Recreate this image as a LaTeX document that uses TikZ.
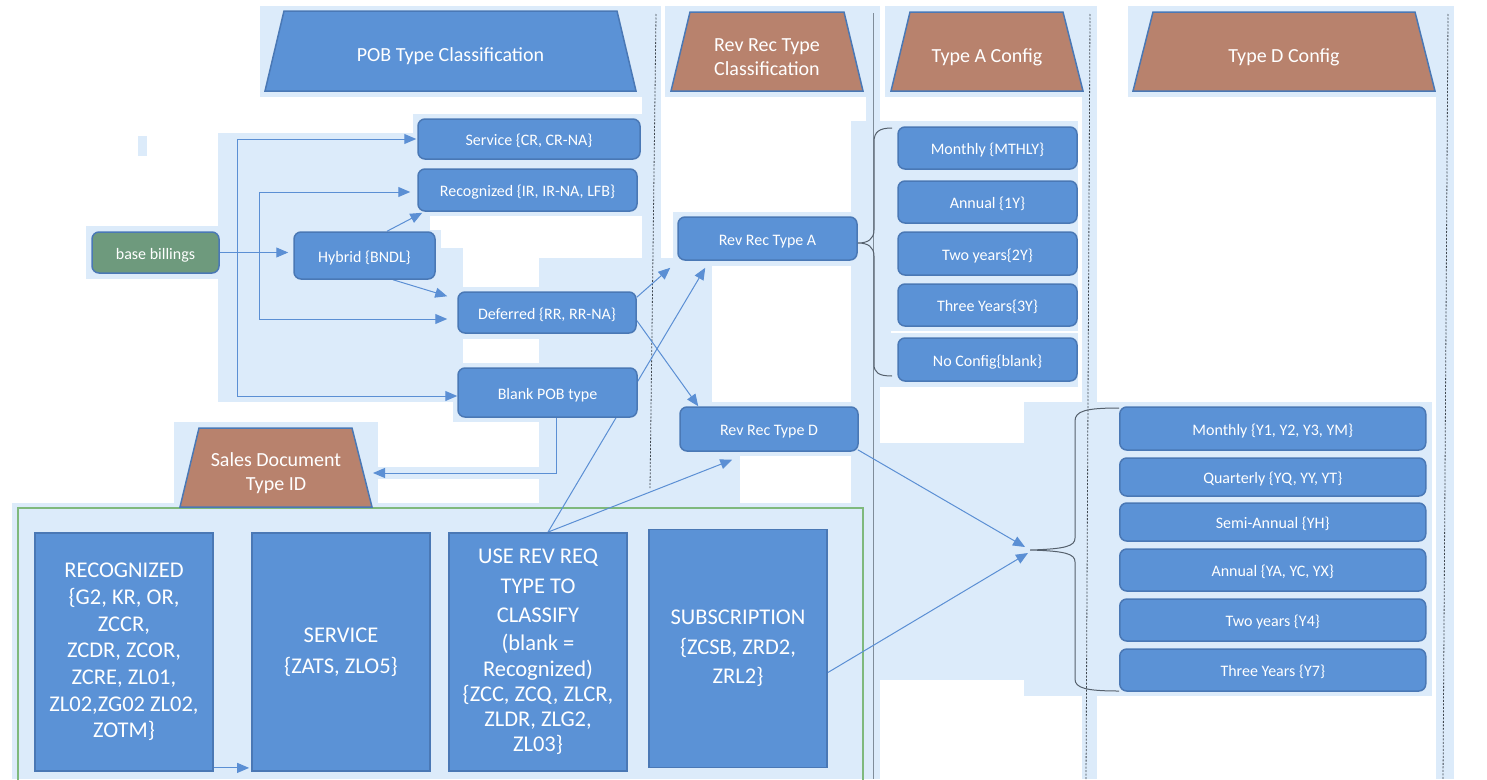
\documentclass[tikz,border=0pt]{standalone}
\usepackage{fontspec}
\setmainfont{Carlito}
\usetikzlibrary{arrows.meta,calc}
\pgfdeclarelayer{bg}
\pgfdeclarelayer{conn}
\pgfsetlayers{bg,conn,main}
\definecolor{bgblue}{HTML}{DCEBFA}
\definecolor{boxblue}{HTML}{5B92D6}
\definecolor{boxedge}{HTML}{4A78B5}
\definecolor{hdrbrown}{HTML}{B8826D}
\definecolor{bbgreen}{HTML}{6E9A7D}
\definecolor{arrowblue}{HTML}{5B8FD4}
\definecolor{framegreen}{HTML}{7FB97D}
\definecolor{laneline}{HTML}{7F8C99}
\definecolor{lanedash}{HTML}{404850}
\definecolor{bracecol}{HTML}{55606C}
\begin{document}
\begin{tikzpicture}[x=1pt,y=-1pt,
  rbox/.style={draw=boxedge, line width=1.5pt, fill=boxblue, rounded corners=7pt,
    text=white, font=\fontsize{16}{19}\selectfont, inner sep=0pt, align=center,
    text height=16.5pt, text depth=3pt},
  sqbox/.style={draw=boxedge, line width=1.8pt, fill=boxblue, text=white,
    inner sep=0pt, align=center, minimum width=178pt, minimum height=238pt},
  hdrshape/.style={draw=boxedge, line width=1.5pt},
  hdrtext/.style={text=white, align=center, font=\fontsize{20}{24}\selectfont,
    inner sep=0pt},
  conn/.style={draw=arrowblue, line width=1pt, -{Triangle[length=12pt,width=10pt]}},
  bracestyle/.style={draw=bracecol, line width=1pt},
  dashlane/.style={draw=lanedash, line width=0.8pt, dash pattern=on 2pt off 1.5pt}
]
\useasboundingbox (0,0) rectangle (1487,779);

% ---------- background ----------
\begin{pgfonlayer}{bg}
\fill[white] (0,0) rectangle (1487,779);
\fill[bgblue] (260,6) rectangle (642,97);
\fill[bgblue] (665,6) rectangle (868,97);
\fill[bgblue] (885,6) rectangle (1088,97);
\fill[bgblue] (1128,6) rectangle (1440,97);
\fill[bgblue] (642,6) rectangle (661,260);
\fill[bgblue] (866,6) rectangle (880,779);
\fill[bgblue] (1082,6) rectangle (1097,779);
\fill[bgblue] (1436,6) rectangle (1454,779);
\fill[bgblue] (138,136) rectangle (147,156);
\fill[bgblue] (86,226) rectangle (218,279);
\fill[bgblue] (413,114) rectangle (645,133);
\fill[bgblue] (218,133) rectangle (645,402);
\fill[bgblue] (453,353) rectangle (645,422);
\fill[bgblue] (539,258) rectangle (868,508);
\fill[bgblue] (673,212) rectangle (868,258);
\fill[bgblue] (851,121) rectangle (1078,387);
\fill[bgblue] (878,443) rectangle (1024,680);
\fill[bgblue] (1024,402) rectangle (1432,696);
\fill[bgblue] (12,503) rectangle (870,779);
\fill[bgblue] (174,422) rectangle (378,503);
\fill[bgblue] (378,467) rectangle (539,479);
\fill[white] (430,216) rectangle (642,230);
\fill[white] (441,230) rectangle (642,248);
\fill[white] (463,248) rectangle (642,258);
\fill[white] (463,258) rectangle (539,287);
\fill[white] (463,339) rectangle (539,363);
\fill[white] (712,266) rectangle (851,402);
\fill[white] (740,456) rectangle (851,503);
\draw[white, line width=1.5pt] (891,332) -- (1078,332);
% lane lines
\draw[dashlane] (656,14) -- (650,488);
\draw[laneline, line width=1pt] (873,13) -- (873,779);
\draw[dashlane] (1090,14) -- (1086,779);
\draw[dashlane] (1448,14) -- (1443,779);
% frame
\draw[framegreen, line width=1.5pt] (18,508) rectangle (863,782);
\end{pgfonlayer}

% ---------- headers (trapezoids) ----------
\draw[hdrshape, fill=boxblue] (265,91) -- (284,11) -- (617,11) -- (636,91) -- cycle;
\node[hdrtext] (pobt) at (450.5,56) {POB Type Classification};
\draw[hdrshape, fill=hdrbrown] (671,91) -- (690,12) -- (844,12) -- (863,91) -- cycle;
\node[hdrtext] (revt) at (767,57.5) {Rev Rec Type\\Classification};
\draw[hdrshape, fill=hdrbrown] (891,91) -- (910,12) -- (1063,12) -- (1083,91) -- cycle;
\node[hdrtext] (tat) at (987,57.5) {Type A Config};
\draw[hdrshape, fill=hdrbrown] (1133,91) -- (1153,12) -- (1415,12) -- (1435,91) -- cycle;
\node[hdrtext] (tdt) at (1284,57.5) {Type D Config};
\draw[hdrshape, fill=hdrbrown] (180,507) -- (199,428) -- (352,428) -- (372,507) -- cycle;
\node[hdrtext] (sales) at (276,473.5) {Sales Document\\Type ID};

% ---------- POB boxes ----------
\node[rbox, fill=bbgreen, minimum width=127pt, minimum height=41pt] (bb) at (155.5,252.5) {base billings};
\node[rbox, minimum width=222pt, minimum height=40pt] (svc) at (529,139) {Service \{CR, CR-NA\}};
\node[rbox, minimum width=219pt, minimum height=42pt] (rec) at (527.5,190) {Recognized \{IR, IR-NA, LFB\}};
\node[rbox, minimum width=141pt, minimum height=47pt] (hyb) at (364.5,255.5) {Hybrid \{BNDL\}};
\node[rbox, minimum width=178pt, minimum height=41pt] (def) at (547,312.5) {Deferred \{RR, RR-NA\}};
\node[rbox, minimum width=179pt, minimum height=49pt] (blank) at (547.5,392.5) {Blank POB type};

% ---------- Rev rec boxes ----------
\node[rbox, minimum width=179pt, minimum height=43pt] (revA) at (767.5,238.5) {Rev Rec Type A};
\node[rbox, minimum width=178pt, minimum height=44pt] (revD) at (769,429) {Rev Rec Type D};

% ---------- Type A config ----------
\node[rbox, minimum width=179pt, minimum height=42pt] (am) at (987.5,148) {Monthly \{MTHLY\}};
\node[rbox, minimum width=179pt, minimum height=42pt] (aa) at (987.5,202) {Annual \{1Y\}};
\node[rbox, minimum width=179pt, minimum height=43pt] (atw) at (987.5,253.5) {Two years\{2Y\}};
\node[rbox, minimum width=179pt, minimum height=42pt] (ath) at (987.5,305) {Three Years\{3Y\}};
\node[rbox, minimum width=179pt, minimum height=43pt] (anc) at (987.5,359.5) {No Config\{blank\}};

% ---------- Type D config ----------
\node[rbox, minimum width=306pt, minimum height=43pt] (dm) at (1272.75,428.5) {Monthly \{Y1, Y2, Y3, YM\}};
\node[rbox, minimum width=306pt, minimum height=38pt] (dq) at (1272.75,477) {Quarterly \{YQ, YY, YT\}};
\node[rbox, minimum width=306pt, minimum height=38pt] (ds) at (1272.75,522) {Semi-Annual \{YH\}};
\node[rbox, minimum width=306pt, minimum height=42pt] (da) at (1272.75,570) {Annual \{YA, YC, YX\}};
\node[rbox, minimum width=306pt, minimum height=42pt] (dtw) at (1272.75,620) {Two years \{Y4\}};
\node[rbox, minimum width=306pt, minimum height=42pt] (dth) at (1272.75,670) {Three Years \{Y7\}};

% ---------- bottom boxes ----------
\node[sqbox, font=\fontsize{22.5}{26.7}\selectfont] (recog) at (124,652) {RECOGNIZED\\\{G2, KR, OR,\\ZCCR,\\ZCDR, ZCOR,\\ZCRE, ZL01,\\ZL02,ZG02 ZL02,\\ZOTM\}};
\node[sqbox, font=\fontsize{22.5}{31}\selectfont] (servb) at (341,652) {SERVICE\\\{ZATS, ZLO5\}};
\node[sqbox, font=\fontsize{22.5}{25.25}\selectfont] (use) at (538,652) {USE REV REQ\\[4.25pt]TYPE TO\\[4.25pt]CLASSIFY\\[2.75pt](blank =\\Recognized)\\\{ZCC, ZCQ, ZLCR,\\ZLDR, ZLG2,\\ZL03\}};
\node[sqbox, font=\fontsize{22.5}{29.5}\selectfont] (sub) at (738,648.5) {SUBSCRIPTION\\\{ZCSB, ZRD2,\\ZRL2\}};

\coordinate (j1) at (237,252.5);
\coordinate (j2) at (259,252.5);
\coordinate (tipA) at (858,243);
\coordinate (tipD) at (1030,550);

% ---------- connectors ----------
\begin{pgfonlayer}{conn}
\draw[conn, shorten >=5pt] (bb.east) -- (bb.east -| hyb.west);
\draw[conn, shorten >=1pt] (bb.east) -- (j1) |- (svc.west);
\draw[conn] (j1) |- ($(blank.west)+(0,3.5)$);
\draw[conn, shorten >=7pt] (j2) |- ($(rec.west)+(0,2)$);
\draw[conn, shorten >=10pt] (j2) |- ($(def.west)+(0,6.5)$);
\draw[conn] ($(hyb.north)+(22.5,0)$) -- ($(rec.south west)+(5,1)$);
\draw[conn] ($(hyb.south)+(28.5,0)$) -- ($(def.north west)+(-10,5)$);
\draw[conn] ($(def.north east)+(0,6)$) -- ($(revA.south west)+(-7,7)$);
\draw[conn] ($(use.north)+(10,0)$) -- ($(revA.south west)+(28,7)$);
\draw[conn] ($(def.east)+(0,8)$) -- ($(revD.north west)+(19,0)$);
\draw[conn] ($(use.north)+(10,0)$) -- ($(revD.south west)+(53,8)$);
\draw[conn] ($(blank.south)+(8.5,0)$) |- ($(sales.center)+(97,-0.5)$);
\draw[conn] ($(recog.south east)+(0,-4)$) -- ($(servb.south west)+(-2,-4)$);
\draw[conn] ($(revD.south east)+(-1,-2)$) -- ($(tipD)+(-5,-3)$);
\draw[conn] ($(sub.east)+(0,24)$) -- ($(tipD)+(-2,3)$);
\end{pgfonlayer}

% ---------- braces ----------
\draw[bracestyle] (892,128) .. controls (879,128) and (874,132) .. (874,142) -- (874,230)
  .. controls (874,239) and (868,243) .. (tipA)
  .. controls (868,243) and (874,247) .. (874,256) -- (874,364)
  .. controls (874,373) and (879,376) .. (892,376);
\draw[bracestyle] (1119,408) .. controls (1086,408) and (1075,411) .. (1075,421) -- (1075,538)
  .. controls (1075,546) and (1066,549) .. (tipD)
  .. controls (1066,551) and (1075,554) .. (1075,562) -- (1075,679)
  .. controls (1075,688) and (1086,691) .. (1119,691);
\end{tikzpicture}
\end{document}
